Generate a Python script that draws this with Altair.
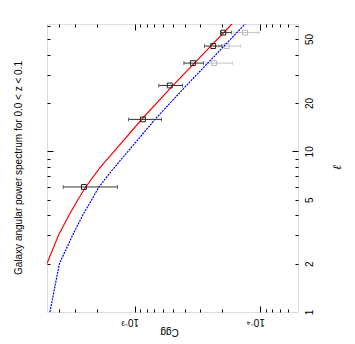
import altair as alt
import pandas as pd

# ---- data ----
# model curves (ell, C_gg)
red_ell = [2, 3, 4, 5, 6, 8, 10, 16, 25.7, 62]
red_cgg = [5.0e-3, 4.05e-3, 3.34e-3, 2.84e-3, 2.46e-3, 1.87e-3, 1.46e-3, 8.68e-4, 4.95e-4, 1.68e-4]
blue_ell = [1, 2, 3, 4, 5, 6, 8, 10, 16, 25.7, 62]
blue_cgg = [4.74e-3, 3.98e-3, 3.13e-3, 2.60e-3, 2.20e-3, 1.93e-3, 1.44e-3, 1.13e-3, 6.80e-4, 3.87e-4, 1.32e-4]

# measured points (black)
pt_ell = [6.0, 15.8, 25.7, 35.4, 45.2, 54.8]
pt_cgg = [2.54e-3, 8.6e-4, 5.26e-4, 3.44e-4, 2.37e-4, 1.97e-4]
pt_hi = [3.71e-3, 1.12e-3, 6.43e-4, 4.06e-4, 2.78e-4, 2.06e-4]
pt_lo = [1.37e-3, 6.12e-4, 4.16e-4, 2.83e-4, 2.02e-4, 1.69e-4]

# measured points (grey)
gr_ell = [35.4, 45.2, 54.8]
gr_cgg = [2.33e-4, 1.85e-4, 1.32e-4]
gr_hi = [2.71e-4, 2.14e-4, 1.62e-4]
gr_lo = [1.66e-4, 1.43e-4, 1.02e-4]

# axis ticks / labels
c_label_vals = [1e-3, 1e-4]
c_major = [1e-3, 1e-4]
c_minor = [4e-3, 3e-3, 2e-3, 9e-4, 8e-4, 7e-4, 6e-4, 5e-4, 4e-4, 3e-4, 2e-4,
           9e-5, 8e-5, 7e-5, 6e-5]
l_label_vals = [1, 2, 5, 10, 20, 50]
l_major = [10]
l_minor = [2, 3, 4, 5, 6, 7, 8, 9, 20, 30, 40, 50, 60]

FONT = "Liberation Sans"
MAJ, MIN = 6, 3

red = pd.DataFrame({"ell": red_ell, "cgg": red_cgg})
blue = pd.DataFrame({"ell": blue_ell, "cgg": blue_cgg})
blk = pd.DataFrame({"ell": pt_ell, "cgg": pt_cgg, "hi": pt_hi, "lo": pt_lo})
gry = pd.DataFrame({"ell": gr_ell, "cgg": gr_cgg, "hi": gr_hi, "lo": gr_lo})
blk_caps = pd.DataFrame({"ell": pt_ell + pt_ell, "cgg": pt_hi + pt_lo})
gry_caps = pd.DataFrame({"ell": gr_ell + gr_ell, "cgg": gr_hi + gr_lo})

xs = alt.Scale(type="log", domain=[5e-5, 5e-3], reverse=True, nice=False)
ys = alt.Scale(type="log", domain=[1, 62], nice=False)


def tick_axis(orient, values, size):
    return alt.Axis(orient=orient, values=values, ticks=True, tickSize=size,
                    offset=-size, labels=False, domain=False, grid=False,
                    title=None, tickColor="black", tickWidth=1)


x_label_axis = alt.Axis(
    orient="bottom", values=c_label_vals, ticks=False, domain=False, grid=False,
    labels=True, labelAngle=180, labelAlign="center", labelBaseline="middle",
    labelPadding=9, labelOffset=-5, labelFlush=False, labelOverlap=False,
    labelExpr="datum.value > 0.0005 ? '10\u207b\u00b3' : '10\u207b\u2074'",
    labelFont=FONT, labelFontSize=10, labelColor="black",
    title="Cgg", titleAngle=180, titleAlign="center", titleBaseline="middle",
    titleX=122, titleY=19, titleFont=FONT, titleFontSize=10,
    titleFontWeight="normal", titleColor="black")

y_label_axis = alt.Axis(
    orient="right", values=l_label_vals, ticks=False, domain=False, grid=False,
    labels=True, labelAngle=270, labelAlign="center", labelBaseline="middle",
    labelPadding=11, labelOverlap=False, format="~g",
    labelFont=FONT, labelFontSize=10, labelColor="black",
    title="\u2113", titleAngle=270, titleAlign="center", titleBaseline="middle",
    titleX=38, titleY=143, titleFont="DejaVu Serif", titleFontSize=12,
    titleFontStyle="italic", titleFontWeight="normal", titleColor="black")

red_line = alt.Chart(red).mark_line(color="#ff0000", strokeWidth=1.2, clip=True).encode(
    x=alt.X("cgg:Q", scale=xs, axis=x_label_axis),
    y=alt.Y("ell:Q", scale=ys, axis=y_label_axis),
    order="ell:Q")

blue_line = alt.Chart(blue).mark_line(color="#0000ff", strokeWidth=1.2,
                                      strokeDash=[2, 1], clip=True).encode(
    x=alt.X("cgg:Q", scale=xs, axis=tick_axis("bottom", c_major, MAJ)),
    y=alt.Y("ell:Q", scale=ys, axis=tick_axis("right", l_major, MAJ)),
    order="ell:Q")

blk_bar = alt.Chart(blk).mark_rule(color="#333333", strokeWidth=1).encode(
    x=alt.X("lo:Q", scale=xs, axis=tick_axis("bottom", c_minor, MIN)),
    x2="hi:Q",
    y=alt.Y("ell:Q", scale=ys, axis=tick_axis("right", l_minor, MIN)))

blk_cap = alt.Chart(blk_caps).mark_tick(color="#333333", thickness=1, size=4,
                                        orient="vertical").encode(
    x=alt.X("cgg:Q", scale=xs, axis=tick_axis("top", c_major, MAJ)),
    y=alt.Y("ell:Q", scale=ys, axis=tick_axis("left", l_major, MAJ)))

blk_pt = alt.Chart(blk).mark_point(shape="square", size=24, filled=False,
                                   color="#222222", strokeWidth=1, opacity=1).encode(
    x=alt.X("cgg:Q", scale=xs, axis=tick_axis("top", c_minor, MIN)),
    y=alt.Y("ell:Q", scale=ys, axis=tick_axis("left", l_minor, MIN)))

gry_bar = alt.Chart(gry).mark_rule(color="#c4c4c4", strokeWidth=1).encode(
    x=alt.X("lo:Q", scale=xs, axis=None), x2="hi:Q",
    y=alt.Y("ell:Q", scale=ys, axis=None))

gry_cap = alt.Chart(gry_caps).mark_tick(color="#c4c4c4", thickness=1, size=4,
                                        orient="vertical").encode(
    x=alt.X("cgg:Q", scale=xs, axis=None),
    y=alt.Y("ell:Q", scale=ys, axis=None))

gry_pt = alt.Chart(gry).mark_point(shape="square", size=24, filled=False,
                                   color="#b8b8b8", strokeWidth=1, opacity=1).encode(
    x=alt.X("cgg:Q", scale=xs, axis=None),
    y=alt.Y("ell:Q", scale=ys, axis=None))

chart = alt.layer(
    gry_bar, gry_cap, gry_pt, red_line, blue_line, blk_bar, blk_cap, blk_pt
).resolve_axis(x="independent", y="independent").properties(
    width=251, height=288,
    title=alt.TitleParams(
        "Galaxy angular power spectrum for 0.0 < z < 0.1", orient="left",
        anchor="middle", font=FONT, fontSize=10, fontWeight="normal",
        color="black", offset=23),
    autosize=alt.AutoSizeParams(type="none"),
    padding={"left": 39, "top": 16, "right": 49, "bottom": 25},
).configure_view(stroke="black", strokeWidth=1).configure(background="white")

chart.save("out.html", embed_options={"renderer": "svg", "actions": False})
